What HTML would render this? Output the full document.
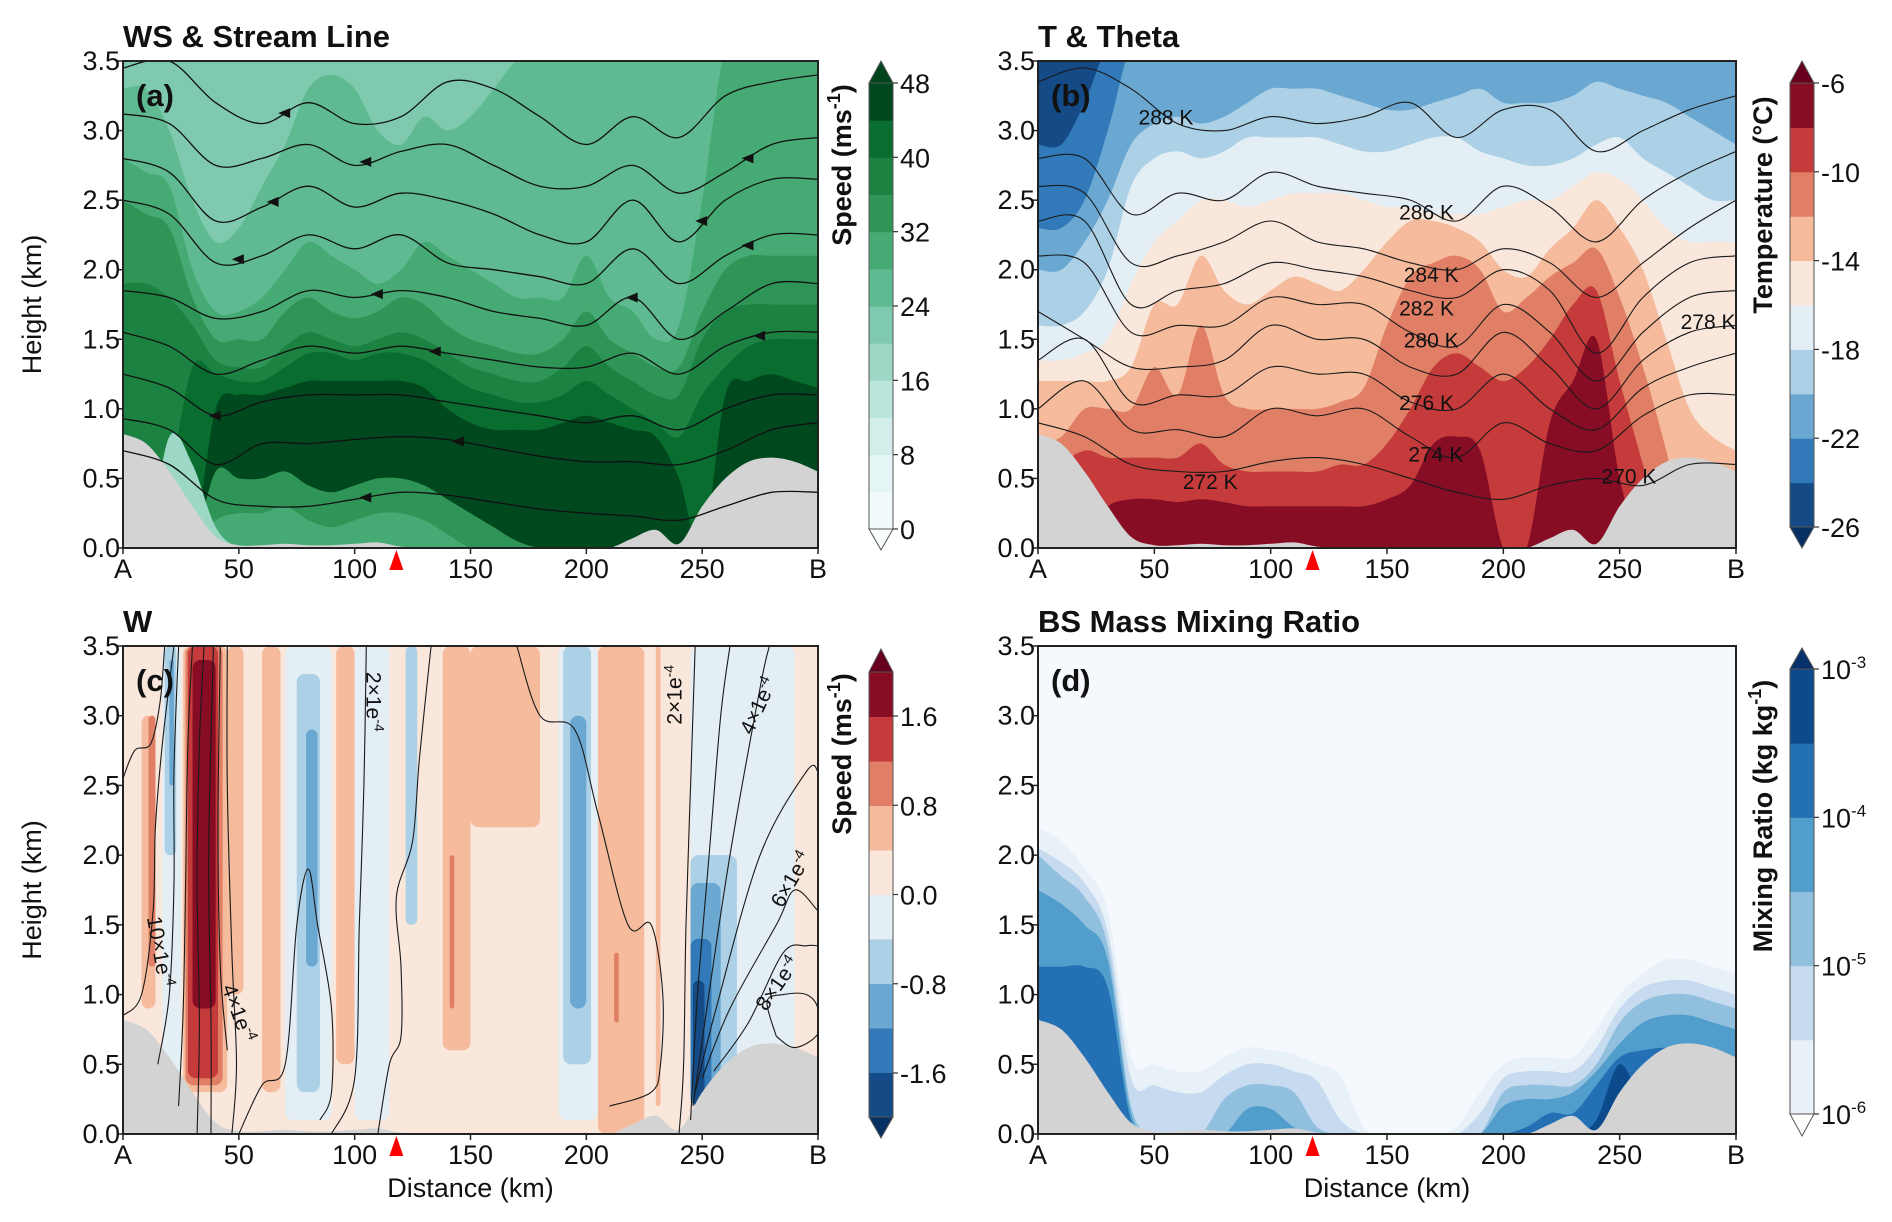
<!DOCTYPE html>
<html><head><meta charset="utf-8"><style>
html,body{margin:0;padding:0;background:#fff;}
svg{display:block;}
text{font-family:"Liberation Sans Narrow","Liberation Sans",sans-serif;fill:#111;}
.ttl{font-family:"Liberation Sans",sans-serif;font-weight:bold;font-size:31px;}
.ax{font-family:"Liberation Sans",sans-serif;font-size:27px;}
.cbl{font-family:"Liberation Sans",sans-serif;font-weight:bold;font-size:27px;}
.tk{font-size:27px;}
.lab{font-size:21px;}
</style></head><body>
<svg id="fig" xmlns="http://www.w3.org/2000/svg" width="1892" height="1222" viewBox="0 0 1892 1222"></svg>
<script>
// ---------- DATA ----------
const gridX = [0,10,20,30,40,50,60,70,80,90,100,110,120,130,140,150,160,170,180,190,200,210,220,230,240,250,260,270,280,290,300];
const gridX20 = [0,20,40,60,80,100,120,140,160,180,200,220,240,260,280,300];
const terrainH = [0.82,0.75,0.55,0.3,0.08,0.02,0.02,0.03,0.02,0.02,0.03,0.04,0.01,0,0,0,0,0,0,0,0,0,0.07,0.13,0.03,0.3,0.5,0.62,0.65,0.62,0.55];
const xTickLabels = ["A","50","100","150","200","250","B"];
const xTickVals = [0,50,100,150,200,250,300];
const yTickVals = [0,0.5,1,1.5,2,2.5,3,3.5];
const yTickLabels = ["0.0","0.5","1.0","1.5","2.0","2.5","3.0","3.5"];
const markerKm = 118;

// panel a: wind speed level boundaries
const aLevels = [24,28,32,36,40,44];
const aL24 = [3.3,3.3,3.0,2.5,2.2,2.3,2.6,2.9,3.3,3.4,3.3,3.0,2.9,3.1,3.0,3.1,3.3,3.5,3.5,3.5,3.5,3.5,3.5,3.5,3.5,3.6,3.6,3.6,3.6,3.6,3.6];
const aL28 = [2.8,2.7,2.6,2.0,1.7,1.7,1.8,2.0,2.2,2.1,2.0,1.9,2.0,2.2,2.1,2.0,1.9,1.8,1.8,1.8,2.1,1.8,1.7,1.5,1.6,2.5,3.6,3.6,3.6,3.6,3.6];
const aL32 = [2.5,2.4,2.3,1.8,1.5,1.5,1.5,1.7,1.8,1.7,1.65,1.7,1.8,1.75,1.6,1.5,1.45,1.4,1.4,1.5,1.7,1.5,1.4,1.3,1.3,1.7,2.0,2.1,2.1,2.1,2.1];
const aL36 = [1.9,1.9,1.8,1.6,1.35,1.3,1.3,1.45,1.55,1.5,1.45,1.5,1.55,1.5,1.4,1.3,1.25,1.2,1.2,1.3,1.45,1.3,1.2,1.1,1.1,1.5,1.7,1.75,1.75,1.75,1.75];
const aL40 = [0,0,0.5,1.3,1.25,1.2,1.2,1.3,1.4,1.4,1.35,1.4,1.4,1.35,1.25,1.15,1.1,1.05,1.05,1.1,1.2,1.1,1.0,0.9,0.8,1.1,1.3,1.45,1.5,1.5,1.5];
const aL44 = [0,0,0,0,1.0,1.1,1.1,1.15,1.2,1.2,1.2,1.2,1.2,1.15,1.0,0.9,0.85,0.85,0.85,0.9,0.95,0.9,0.85,0.8,0.5,0,1.1,1.2,1.25,1.2,1.15];
const aLow36 = [0,0,0,0,0.55,0.5,0.5,0.55,0.45,0.4,0.45,0.5,0.5,0.45,0.35,0.25,0.15,0.05,0,0,0,0,0,0,0,0,0,0,0,0,0];
const aLow32 = [0,0,0,0,0.2,0.25,0.25,0.3,0.2,0.15,0.2,0.25,0.25,0.2,0.1,0,0,0,0,0,0,0,0,0,0,0,0,0,0,0,0];
const aWedge16 = [0,0,0.8,0.6,0.15,0,0,0,0,0,0,0,0,0,0,0,0,0,0,0,0,0,0,0,0,0,0,0,0,0,0];
const stream1 = [3.45,3.5,3.2,3.05,3.2,3.05,3.1,3.35,3.3,3.1,2.9,3.1,2.95,3.25,3.35,3.4];
const stream2 = [3.12,3.05,2.75,2.8,2.9,2.75,2.85,2.9,2.75,2.6,2.6,2.75,2.55,2.7,2.9,2.95];
const stream3 = [2.8,2.7,2.35,2.45,2.6,2.45,2.55,2.5,2.4,2.25,2.2,2.5,2.2,2.5,2.65,2.65];
const stream4 = [2.5,2.4,2.05,2.1,2.25,2.15,2.25,2.05,2.0,1.95,1.9,2.15,1.9,2.1,2.25,2.25];
const stream5 = [1.85,1.8,1.65,1.7,1.85,1.8,1.85,1.8,1.7,1.65,1.6,1.8,1.5,1.7,1.9,1.9];
const stream6 = [1.55,1.45,1.25,1.35,1.45,1.4,1.45,1.4,1.35,1.3,1.3,1.4,1.25,1.45,1.55,1.55];
const stream7 = [1.25,1.15,0.95,1.05,1.1,1.1,1.1,1.05,1.0,0.95,0.9,0.95,0.85,1.0,1.1,1.1];
const stream8 = [0.93,0.85,0.6,0.75,0.75,0.78,0.8,0.78,0.72,0.66,0.62,0.62,0.6,0.7,0.85,0.9];
const stream9 = [0.7,0.6,0.35,0.3,0.3,0.35,0.4,0.38,0.33,0.28,0.25,0.23,0.2,0.3,0.4,0.4];
const arrowLine = [1,2,3,4,5,6,7,8,9,2,4,6,3,5];
const arrowKm = [70,105,65,50,110,135,40,145,105,270,270,275,250,220];

// panel b
const bL20 = [2.0,2.0,2.2,2.5,2.9,3.05,3.1,3.05,3.1,3.2,3.3,3.3,3.3,3.25,3.2,3.15,3.15,3.2,3.25,3.3,3.2,3.2,3.2,3.25,3.35,3.3,3.25,3.2,3.1,3.0,2.9];
const bL18 = [1.6,1.6,1.7,2.0,2.6,2.8,2.85,2.8,2.85,2.95,2.95,2.95,2.95,2.9,2.85,2.85,2.9,2.95,2.95,2.85,2.8,2.75,2.75,2.8,2.9,2.95,2.8,2.7,2.6,2.5,2.5];
const bL16 = [1.35,1.35,1.4,1.5,1.9,2.2,2.35,2.5,2.5,2.45,2.5,2.55,2.55,2.55,2.5,2.45,2.45,2.4,2.4,2.4,2.45,2.5,2.5,2.6,2.7,2.65,2.5,2.3,2.2,2.2,2.2];
const bL14 = [1.2,1.2,1.2,1.2,1.3,1.75,1.75,2.1,1.85,1.75,1.85,1.95,1.9,1.85,2.0,2.2,2.35,2.35,2.3,2.2,2.0,1.95,2.15,2.3,2.5,2.3,2.0,1.5,1.0,0.8,0.7];
const bL12 = [0.75,0.8,1.0,1.0,1.0,1.3,1.1,1.6,1.1,1.0,1.0,1.0,1.0,1.05,1.15,1.6,1.95,2.05,2.1,2.0,1.7,1.8,1.95,2.05,2.15,1.8,1.3,0.7,0,0,0];
const bL10 = [0,0.55,0.7,0.65,0.65,0.65,0.65,0.75,0.6,0.55,0.55,0.55,0.55,0.6,0.6,0.75,1.0,1.3,1.4,1.3,1.2,1.3,1.5,1.75,1.85,1.2,0.6,0,0,0,0];
const bL8 = [0,0,0.1,0.3,0.35,0.35,0.33,0.35,0.33,0.3,0.3,0.3,0.3,0.3,0.3,0.35,0.45,0.75,0.8,0.7,0,0,0.9,1.2,1.5,0.5,0,0,0,0,0];
const bCold24 = [2.3,2.3,2.5,3.0,3.6,3.6,3.6,3.6,3.6,3.6,3.6,3.6,3.6,3.6,3.6,3.6,3.6,3.6,3.6,3.6,3.6,3.6,3.6,3.6,3.6,3.6,3.6,3.6,3.6,3.6,3.6];
const bCold26 = [2.9,2.9,3.2,3.6,3.6,3.6,3.6,3.6,3.6,3.6,3.6,3.6,3.6,3.6,3.6,3.6,3.6,3.6,3.6,3.6,3.6,3.6,3.6,3.6,3.6,3.6,3.6,3.6,3.6,3.6,3.6];
const theta288 = [3.35,3.45,3.3,3.05,3.0,3.1,3.05,3.1,3.2,2.95,3.15,3.15,2.85,3.0,3.15,3.25];
const theta286 = [2.8,2.8,2.4,2.55,2.5,2.7,2.6,2.55,2.5,2.35,2.6,2.45,2.2,2.5,2.7,2.85];
const theta284 = [2.6,2.55,2.05,2.1,2.2,2.35,2.2,2.15,2.05,2.0,2.15,2.05,1.8,2.05,2.3,2.5];
const theta282 = [2.35,2.35,1.75,1.85,1.9,2.05,2.0,1.95,1.85,1.8,2.0,1.85,1.4,1.8,2.05,2.1];
const theta280 = [2.1,2.05,1.55,1.6,1.6,1.8,1.75,1.75,1.55,1.45,1.75,1.55,1.2,1.55,1.8,1.85];
const theta278 = [1.7,1.5,1.3,1.3,1.35,1.6,1.5,1.5,1.3,1.25,1.55,1.3,1.0,1.35,1.55,1.6];
const theta276 = [1.35,1.5,1.05,1.1,1.1,1.3,1.25,1.25,1.05,1.0,1.25,1.0,0.85,1.15,1.3,1.4];
const theta274 = [1.0,1.2,0.85,0.85,0.8,1.0,0.95,1.0,0.8,0.65,0.9,0.75,0.7,0.95,1.1,1.1];
const theta272 = [0.9,0.8,0.6,0.55,0.55,0.62,0.65,0.6,0.5,0.4,0.35,0.45,0.5,0.45,0.6,0.6];
const thetaLabels = ["288 K","286 K","284 K","282 K","280 K","278 K","276 K","274 K","272 K","270 K"];
const thetaLabelKm = [55,167,169,167,169,288,167,171,74,254];
const thetaLabelH = [3.1,2.42,1.97,1.73,1.5,1.63,1.05,0.68,0.48,0.52];

// panel c
const cStart = [8,11,17,18,20,26,27,28,30,45,60,70,75,79,92,100,122,138,141,150,188,190,193,205,212,230,245,245,245,245,246];
const cEnd   = [14,14,25,23,22,45,43,41,40,52,68,90,85,84,100,115,127,150,143,180,205,202,200,225,214,232,290,265,258,254,251];
const cBot   = [0.9,1.2,0.2,2.0,2.5,0.3,0.35,0.4,0.9,1.0,0.3,0.1,0.3,1.2,0.5,0.1,1.5,0.6,0.9,2.2,0.1,0.5,0.9,0.0,0.8,0.2,0.2,0.2,0.2,0.2,0.2];
const cTop   = [3.0,3.0,3.5,3.5,3.4,3.5,3.5,3.5,3.4,3.5,3.5,3.5,3.3,2.9,3.5,3.5,3.5,3.5,2.0,3.5,3.5,3.5,3.0,3.5,1.3,3.5,3.5,2.0,1.8,1.4,1.1];
const cW     = [0.6,1.0,-0.2,-0.6,-1.0,0.6,1.0,1.4,1.8,0.6,0.6,-0.2,-0.6,-1.0,0.6,-0.2,-0.6,0.6,1.0,0.6,-0.2,-0.6,-1.0,0.6,1.0,0.6,-0.2,-0.6,-1.0,-1.4,-1.8];
const cLineKm = [
 [0,5,12,16,18],[0,8,13,14,17,22],[15,20,22,22,24],[24,26,27,28,30],[32,33,32,33,35],[38,38,37,39],
 [45,42,41,42],[47,49,47,45,45],[50,60,70,75,80,84,90,90,85],[90,100,102,104,105],[110,115,120,120,118,125,128,133],
 [170,180,195,205,218,228,233,232,228,210],[240,242,243,245,247],[245,248,253,258,262],[246,252,262,275,279],
 [247,256,275,295,300],[250,262,282,290,300],[255,270,285,295,300],[282,278,285,295,300,300,290,282]];
const cLineH = [
 [2.55,2.75,2.8,3.1,3.5],[0.85,1.0,1.6,2.2,2.8,3.5],[0.5,1.0,1.8,2.6,3.5],[0.2,0.9,1.8,2.8,3.5],[0.0,0.8,1.8,2.8,3.5],[0.0,0.8,2.0,3.5],
 [0.6,1.2,2.2,3.5],[0.0,0.5,1.3,2.5,3.5],[0.0,0.35,0.5,1.5,1.9,1.5,0.9,0.3,0.1],[0.0,0.4,1.5,2.5,3.5],[0.0,0.5,0.7,1.2,1.7,2.1,2.7,3.5],
 [3.5,3.0,2.9,2.3,1.5,1.5,1.0,0.5,0.3,0.2],[0.0,0.5,1.5,2.5,3.5],[0.1,1.0,2.0,3.0,3.5],[0.2,0.9,2.0,3.2,3.5],
 [0.3,0.9,2.0,2.6,2.6],[0.4,0.9,1.5,1.75,1.6],[0.45,0.8,1.3,1.35,1.35],[0.7,0.95,1.0,1.0,0.9,0.72,0.62,0.7]];
const cLabels = ["10×1e","4×1e","2×1e","2×1e","4×1e","6×1e","8×1e"];
const cLabelKm = [13,47,105,241,277,291,285];
const cLabelH = [1.3,0.85,3.1,3.15,3.05,1.8,1.05];
const cLabelRot = [80,70,90,-90,-65,-60,-55];

// panel d
const dL1 = [2.2,2.1,1.9,1.6,0.55,0.5,0.45,0.45,0.55,0.62,0.6,0.57,0.5,0.42,0.05,0,0,0,0.05,0.3,0.5,0.55,0.55,0.55,0.75,1.0,1.15,1.25,1.25,1.2,1.15];
const dL2 = [2.05,1.95,1.8,1.45,0.4,0.35,0.3,0.3,0.42,0.5,0.5,0.45,0.38,0.1,0,0,0,0,0,0.15,0.4,0.45,0.45,0.45,0.62,0.9,1.05,1.1,1.1,1.05,1.0];
const dL3 = [2.0,1.85,1.7,1.35,0.2,0,0,0,0.25,0.35,0.35,0.3,0.05,0,0,0,0,0,0,0,0.3,0.35,0.35,0.35,0.5,0.8,0.95,1.0,1.0,0.95,0.9];
const dL4 = [1.75,1.65,1.5,1.25,0.15,0,0,0,0,0.18,0.18,0.05,0,0,0,0,0,0,0,0,0.2,0.25,0.25,0.3,0.45,0.65,0.8,0.85,0.85,0.8,0.75];
const dL5 = [1.2,1.2,1.2,1.05,0.1,0,0,0,0,0,0,0,0,0,0,0,0,0,0,0,0,0.05,0.15,0.15,0.35,0.55,0.6,0.62,0.6,0.55,0.5];
const dL6 = [0,0,0,0,0,0,0,0,0,0,0,0,0,0,0,0,0,0,0,0,0,0,0,0,0.1,0.5,0.2,0,0,0,0];

const aCbTicks = ["0","8","16","24","32","40","48"];
const bCbTicks = ["-26","-22","-18","-14","-10","-6"];
const cCbTicks = ["-1.6","-0.8","0.0","0.8","1.6"];
const dCbExp = ["-6","-5","-4","-3"];

// ---------- STYLE ----------
const greens = ['#f2fafb','#e5f5f5','#d3eeea','#bce5dc','#9dd8c6','#7fcaae','#5fba91','#45aa73','#2f9556','#1c8242','#086d2f','#00491e'];
const rdbu = ['#144a86','#3179b8','#6aa8d2','#acd0e6','#e4eef5','#f9e7dc','#f5bb9c','#e07f65','#c53a3a','#870d25'];
const blues = ['#e8f0f8','#c6dbef','#91c0df','#519dcc','#2371b4','#0c4a8c'];
const P = {
 a:{L:123,R:818,T:61,B:548}, b:{L:1038,R:1736,T:61,B:548},
 c:{L:123,R:818,T:646,B:1134}, d:{L:1038,R:1736,T:646,B:1134}};
const NS='http://www.w3.org/2000/svg';
const svg=document.getElementById('fig');
function mk(tag,attrs,parent){const e=document.createElementNS(NS,tag);for(const k in attrs)e.setAttribute(k,attrs[k]);(parent||svg).appendChild(e);return e;}
function sx(p,km){return p.L+km/300*(p.R-p.L);}
function sy(p,h){return p.B-h/3.5*(p.B-p.T);}
function smooth(pts){let d='M'+pts[0][0].toFixed(1)+','+pts[0][1].toFixed(1);
 for(let i=0;i<pts.length-1;i++){const p0=pts[i-1]||pts[i],p1=pts[i],p2=pts[i+1],p3=pts[i+2]||p2;
  const c1=[p1[0]+(p2[0]-p0[0])/6,p1[1]+(p2[1]-p0[1])/6],c2=[p2[0]-(p3[0]-p1[0])/6,p2[1]-(p3[1]-p1[1])/6];
  d+=' C'+c1[0].toFixed(1)+','+c1[1].toFixed(1)+' '+c2[0].toFixed(1)+','+c2[1].toFixed(1)+' '+p2[0].toFixed(1)+','+p2[1].toFixed(1);}
 return d;}
function areaPath(p,xs,hs,fromTop){const pts=xs.map((x,i)=>[sx(p,x),sy(p,hs[i])]);
 const base=fromTop?p.T-5:p.B+5;
 return smooth(pts)+' L'+(p.R+5)+','+pts[pts.length-1][1].toFixed(1)+' L'+(p.R+5)+','+base+' L'+(p.L-5)+','+base+' L'+(p.L-5)+','+pts[0][1].toFixed(1)+' Z';}
function clipFor(id,p){const cp=mk('clipPath',{id:id},defs);mk('rect',{x:p.L,y:p.T,width:p.R-p.L,height:p.B-p.T},cp);}
const defs=mk('defs',{});
for(const k in P) clipFor('clip-'+k,P[k]);

function axes(p,key,title,panelLabel,showXTitle,showYTitle){
 const g=mk('g',{});
 
 
 mk('rect',{x:p.L,y:p.T,width:p.R-p.L,height:p.B-p.T,fill:'none',stroke:'#222','stroke-width':2},g);
 yTickVals.forEach((v,i)=>{const y=sy(p,v);
  mk('line',{x1:p.L-6,x2:p.L,y1:y,y2:y,stroke:'#222','stroke-width':1.5},g);
  const t=mk('text',{x:p.L-3,y:y+9,'text-anchor':'end',class:'tk'},g);t.textContent=yTickLabels[i];
  
  });
 xTickVals.forEach((v,i)=>{const x=sx(p,v);
  mk('line',{x1:x,x2:x,y1:p.B,y2:p.B+6,stroke:'#222','stroke-width':1.5},g);
  const t=mk('text',{x:x,y:p.B+30,'text-anchor':'middle',class:'tk'},g);t.textContent=xTickLabels[i];
  
  });
 const mx=sx(p,markerKm);
 const tri=mk('polygon',{points:(mx-7)+','+(p.B+22)+' '+(mx+7)+','+(p.B+22)+' '+mx+','+(p.B+2),fill:'#ff0000'},g);
 
 
 const tt=mk('text',{x:p.L,y:p.T-14,class:'ttl'},g);tt.textContent=title;
 
 
 const pl=mk('text',{x:p.L+13,y:p.T+45,class:'ttl'},g);pl.textContent=panelLabel;
 
 
 if(showYTitle){const yt=mk('text',{x:0,y:0,class:'ax','text-anchor':'middle',transform:'translate(41,'+((p.T+p.B)/2)+') rotate(-90)'},g);yt.textContent='Height (km)';
  
  }
 if(showXTitle){const xt=mk('text',{x:(p.L+p.R)/2,y:p.B+63,class:'ax','text-anchor':'middle'},g);xt.textContent='Distance (km)';
  
  }
}
function terrain(p,g){const path=mk('path',{d:areaPath(p,gridX,terrainH,false),fill:'#d3d3d3'},g);
 
 }
function band(p,g,hs,color,fromTop){const e=mk('path',{d:areaPath(p,gridX,hs,fromTop),fill:color},g);
 
 return e;}
function colorbar(x,top,bot,tipT,tipB,colors,extTop,extBot,key){
 const g=mk('g',{});
 
 
 const n=colors.length,h=(bot-top)/n,w=24;
 colors.forEach((c,i)=>{mk('rect',{x:x,y:bot-(i+1)*h,width:w,height:h+0.5,fill:c},g);});
 mk('polygon',{points:x+','+top+' '+(x+w)+','+top+' '+(x+w/2)+','+tipT,fill:extTop,stroke:'#555','stroke-width':1},g);
 mk('polygon',{points:x+','+bot+' '+(x+w)+','+bot+' '+(x+w/2)+','+tipB,fill:extBot,stroke:'#555','stroke-width':1},g);
 mk('rect',{x:x,y:top,width:w,height:bot-top,fill:'none',stroke:'#555','stroke-width':1},g);
 return g;}
function cbTicks(g,x,top,bot,labels){labels.forEach((l,i)=>{const y=bot-i*(bot-top)/(labels.length-1);
 mk('line',{x1:x+24,x2:x+29,y1:y,y2:y,stroke:'#333','stroke-width':1.2},g);
 const t=mk('text',{x:x+31,y:y+10,class:'tk'},g);t.textContent=l;
 
 });}
function cbLabel(cx,cy,txt,sup){const t=mk('text',{x:0,y:0,class:'cbl','text-anchor':'middle',transform:'translate('+cx+','+cy+') rotate(-90)'});
 
 
 const s1=mk('tspan',{},t);s1.textContent=txt;
 if(sup){const s2=mk('tspan',{dy:-11,'font-size':18},t);s2.textContent=sup;const s3=mk('tspan',{dy:11},t);s3.textContent=')';}}

// ---------- PANEL A ----------
(function(){const p=P.a;const g=mk('g',{'clip-path':'url(#clip-a)'});
 
 
 const bg=mk('rect',{x:p.L,y:p.T,width:p.R-p.L,height:p.B-p.T,fill:greens[5]},g);
 
 
 [aL24,aL28,aL32,aL36,aL40,aL44].forEach((hs,i)=>band(p,g,hs,greens[aLevels[i]/4]));
 band(p,g,aLow36,greens[8]);band(p,g,aLow32,greens[7]);band(p,g,aWedge16,greens[4]);
 terrain(p,g);
 const streams=[stream1,stream2,stream3,stream4,stream5,stream6,stream7,stream8,stream9];
 streams.forEach(s=>{const e=mk('path',{d:smooth(gridX20.map((x,i)=>[sx(p,x),sy(p,s[i])])),fill:'none',stroke:'#111','stroke-width':1.3},g);
  
  });
 arrowLine.forEach((li,k)=>{const s=streams[li-1];const km=arrowKm[k];const j=Math.min(14,Math.floor(km/20));const f=(km-gridX20[j])/20;
  const h=s[j]+(s[j+1]-s[j])*f;const x=sx(p,km),y=sy(p,h);
  const a=mk('polygon',{points:(x-7)+','+y+' '+(x+5)+','+(y-5)+' '+(x+5)+','+(y+5),fill:'#111'},g);
  
  });
 axes(p,'a','WS & Stream Line','(a)',false,true);
 const cb=colorbar(869,83,529,61,550,greens,'#00441b','#f7fcfd','a');
 cbTicks(cb,869,83,529,aCbTicks);
 cbLabel(851,165,'Speed (ms','-1');
})();

// ---------- PANEL B ----------
(function(){const p=P.b;const g=mk('g',{'clip-path':'url(#clip-b)'});
 
 
 const bg=mk('rect',{x:p.L,y:p.T,width:p.R-p.L,height:p.B-p.T,fill:rdbu[2]},g);
 
 
 [bL20,bL18,bL16,bL14,bL12,bL10,bL8].forEach((hs,i)=>band(p,g,hs,rdbu[3+i]));
 band(p,g,bCold24,rdbu[1],true);band(p,g,bCold26,rdbu[0],true);
 terrain(p,g);
 [theta288,theta286,theta284,theta282,theta280,theta278,theta276,theta274,theta272].forEach(s=>{
  const e=mk('path',{d:smooth(gridX20.map((x,i)=>[sx(p,x),sy(p,s[i])])),fill:'none',stroke:'#1a1a1a','stroke-width':1.1},g);
  
  });
 thetaLabels.forEach((l,i)=>{const t=mk('text',{x:sx(p,thetaLabelKm[i]),y:sy(p,thetaLabelH[i])+8,class:'lab','text-anchor':'middle'},g);t.textContent=l;
  
  });
 axes(p,'b','T & Theta','(b)',false,false);
 const cb=colorbar(1790,83,527,61,548,rdbu,'#67001f','#053061','b');
 cbTicks(cb,1790,83,527,bCbTicks);
 cbLabel(1772,205,'Temperature (°C)',null);
})();

// ---------- PANEL C ----------
(function(){const p=P.c;const g=mk('g',{'clip-path':'url(#clip-c)'});
 
 
 const bg=mk('rect',{x:p.L,y:p.T,width:p.R-p.L,height:p.B-p.T,fill:rdbu[5]},g);
 
 
 function wColor(w){const i=Math.max(0,Math.min(9,Math.floor((w+2)/0.4)));return rdbu[i];}
 cStart.forEach((s,i)=>{const x1=sx(p,s),x2=sx(p,cEnd[i]),y1=sy(p,cTop[i]),y2=sy(p,cBot[i]);
  const r=mk('rect',{x:x1,y:y1,width:x2-x1,height:y2-y1,rx:Math.min(8,(x2-x1)/2),fill:wColor(cW[i])},g);
  
  });
 terrain(p,g);
 cLineKm.forEach((xs,i)=>{const pts=xs.map((x,j)=>[sx(p,x),sy(p,cLineH[i][j])]);
  const e=mk('path',{d:smooth(pts),fill:'none',stroke:'#1a1a1a','stroke-width':1.1},g);
  
  });
 cLabels.forEach((l,i)=>{const x=sx(p,cLabelKm[i]),y=sy(p,cLabelH[i]);
  const t=mk('text',{x:0,y:0,class:'lab','text-anchor':'middle',transform:'translate('+x+','+y+') rotate('+cLabelRot[i]+')'},g);
  
  
  const a=mk('tspan',{},t);a.textContent=l;const b=mk('tspan',{dy:-8,'font-size':14},t);b.textContent='-4';});
 axes(p,'c','W','(c)',true,true);
 colorbar(869,672,1117,649,1138,rdbu,'#67001f','#053061','c');
 const ticksG=mk('g',{});
 
 
 cCbTicks.forEach((l,i)=>{const yy=1073-i*(1073-716)/4;
  mk('line',{x1:893,x2:898,y1:yy,y2:yy,stroke:'#333','stroke-width':1.2},ticksG);
  const t=mk('text',{x:900,y:yy+10,class:'tk'},ticksG);t.textContent=l;
  
  });
 cbLabel(851,754,'Speed (ms','-1');
})();

// ---------- PANEL D ----------
(function(){const p=P.d;const g=mk('g',{'clip-path':'url(#clip-d)'});
 
 
 const bg=mk('rect',{x:p.L,y:p.T,width:p.R-p.L,height:p.B-p.T,fill:'#f5f9fd'},g);
 
 
 [dL1,dL2,dL3,dL4,dL5,dL6].forEach((hs,i)=>band(p,g,hs,blues[i]));
 terrain(p,g);
 axes(p,'d','BS Mass Mixing Ratio','(d)',true,false);
 const cb=colorbar(1790,669,1114,648,1136,blues,'#08306b','#ffffff','d');
 dCbExp.forEach((e,i)=>{const y=1114-i*(1114-669)/3;
  mk('line',{x1:1814,x2:1819,y1:y,y2:y,stroke:'#333','stroke-width':1.2},cb);
  const t=mk('text',{x:1821,y:y+10,class:'tk'},cb);
  
  
  const a=mk('tspan',{},t);a.textContent='10';const b=mk('tspan',{dy:-11,'font-size':17},t);b.textContent=e;});
 cbLabel(1772,816,'Mixing Ratio (kg kg','-1');
})();
</script>
</body></html>
